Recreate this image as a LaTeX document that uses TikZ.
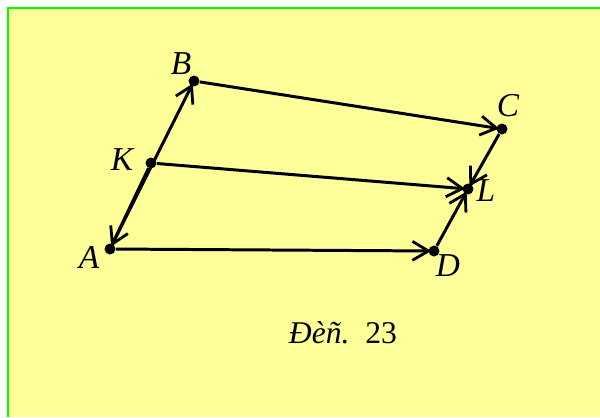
\documentclass[tikz,border=0pt]{standalone}
\usepackage{fontspec}
\setmainfont{Liberation Serif}
\usetikzlibrary{arrows.meta}

\definecolor{paper}{RGB}{255,255,153}
\definecolor{frame}{RGB}{0,255,0}

\begin{document}
\begin{tikzpicture}[
    x=0.02cm, y=-0.02cm,
    pt/.style={circle, fill=black, inner sep=0pt, minimum size=2.2mm},
    lbl/.style={font=\fontsize{19}{22}\selectfont\itshape},
    vec/.style={-{Straight Barb[length=3.2mm,width=3.8mm,line width=1.6pt]}, line width=1.7pt, shorten >=-0.6mm}
]

% Paper
\useasboundingbox (0,0) rectangle (600,417);
\fill[white] (0,0) rectangle (600,417);
\fill[paper] (8,8) rectangle (600,417);
\draw[frame, line width=0.45mm] (8,417) -- (8,8) -- (600,8);

% Points
\node[pt] (A) at (110,249) {};
\node[pt] (B) at (194,81) {};
\node[pt] (C) at (502,129) {};
\node[pt] (D) at (434,251) {};
\node[pt] (K) at (151,163) {};
\node[pt] (L) at (468,189) {};

% Labels
\node[lbl] (lA) at (89,257) {A};
\node[lbl] (lB) at (181,64) {B};
\node[lbl] (lC) at (508,106) {C};
\node[lbl] (lD) at (448,266) {D};
\node[lbl] (lK) at (122,160) {K};
\node[lbl] (lL) at (486,191) {L};

% Vectors
\draw[vec] (A) -- (B);
\draw[vec] (K) -- (A);
\draw[vec] (B) -- (C);
\draw[vec] (A) -- (D);
\draw[vec] (K) -- (L);
\draw[vec] (D) -- (L);
\draw[vec] (C) -- (L);

% Caption
\node[font=\fontsize{18}{22}\selectfont] (cap) at (343,333) {\textit{Đèñ.}\ \ 23};

\end{tikzpicture}
\end{document}
